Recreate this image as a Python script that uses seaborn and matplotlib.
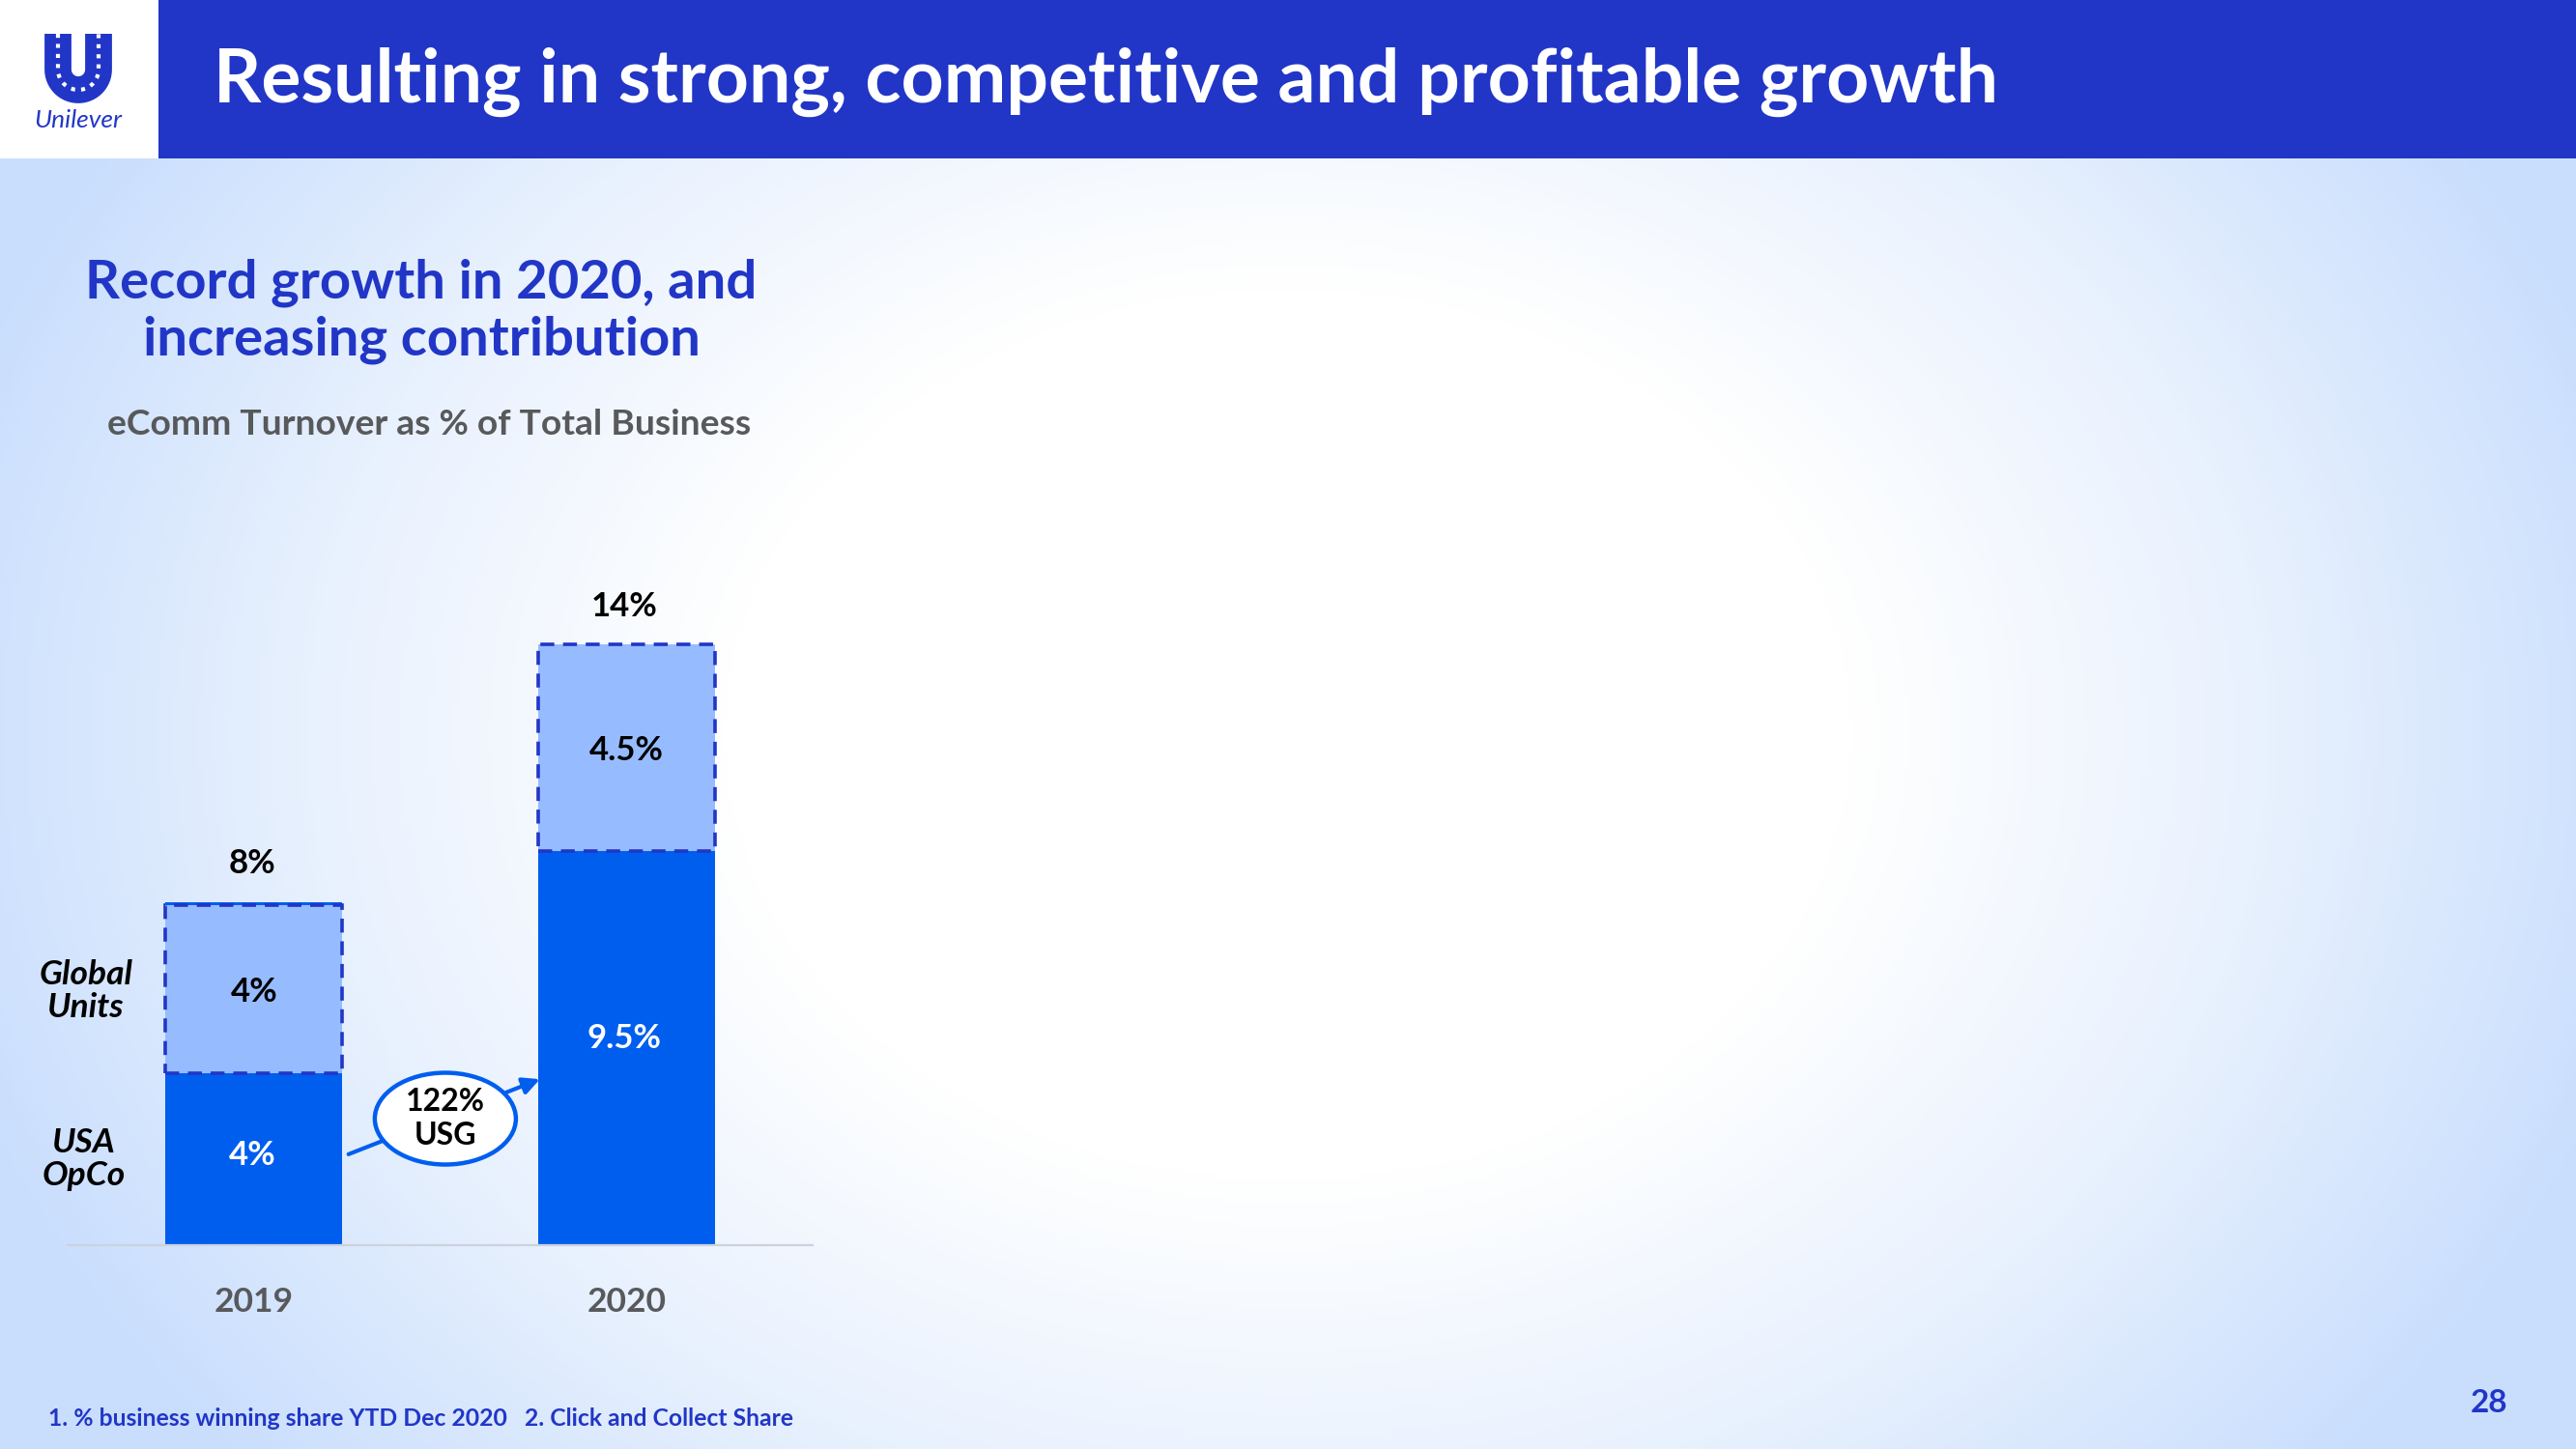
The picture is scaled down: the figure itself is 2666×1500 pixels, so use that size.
# Unilever slide: eComm turnover as % of total business
import numpy as np
import pandas as pd
import matplotlib
matplotlib.use("Agg")
import matplotlib.pyplot as plt
from matplotlib.colors import LinearSegmentedColormap
from matplotlib.patches import Ellipse, Rectangle
import seaborn as sns

# ------------------------------------------------------
# Data (bar heights, labels as printed)
# ------------------------------------------------------
years = ["2019", "2020"]
total_values = [8.0, 14.0]
usa_opco = [4.0, 9.2]
global_units = [3.93, 4.8]
total_labels = ["8%", "14%"]
usa_labels = ["4%", "9.5%"]
global_labels = ["4%", "4.5%"]

BLUE = "#005eef"
LIGHT = "#96bcff"
NAVY = "#2136c7"
GREY = "#58595b"

sns.set_theme(style="white")
plt.rcParams["font.family"] = ["Lato", "DejaVu Sans"]

W, H = 2666, 1500
fig = plt.figure(figsize=(W / 100, H / 100), dpi=100)


def px(x, y):
    # slide pixels to figure fraction
    return x / W, 1 - y / H


# ------------------------------------------------------
# Background gradient and header
# ------------------------------------------------------
bg = fig.add_axes([0, 0, 1, 1], zorder=0)
yy, xx = np.mgrid[0:H:300j, 0:W:534j]
r = np.sqrt(((xx - 1333) / 1450) ** 2 + ((yy - 760) / 1150) ** 2)
cmap = LinearSegmentedColormap.from_list("bg", ["#ffffff", "#ffffff", "#e8f1fe", "#c9defd"])
bg.imshow(np.clip((r - 0.1) / 0.9, 0, 1), cmap=cmap, extent=[0, W, H, 0], aspect="auto", vmin=0, vmax=1)
bg.add_patch(Rectangle((0, 0), W, 164, color=NAVY, lw=0))
bg.add_patch(Rectangle((0, 0), 164, 164, color="white", lw=0))

# logo stand-in: a thick U with a broken white line for the busy pattern
t = np.linspace(np.pi, 2 * np.pi, 30)
u_x = np.r_[60, 81 + 21 * np.cos(t), 102]
u_y = np.r_[35, 72 - 21 * np.sin(t), 35]
bg.plot(u_x, u_y, color=NAVY, lw=20, solid_capstyle="butt")
bg.plot(u_x, u_y, color="white", lw=3, linestyle=(0, (1, 1.5)))
bg.set_xlim(0, W)
bg.set_ylim(H, 0)
bg.axis("off")
fig.text(*px(81, 124), "Unilever", color=NAVY, fontsize=19, style="italic", ha="center", va="center")

# ------------------------------------------------------
# Headings
# ------------------------------------------------------
fig.text(*px(221, 85), "Resulting in strong, competitive and profitable growth", color="white",
         fontsize=55.4, fontweight="bold", ha="left", va="center")
fig.text(*px(436, 293), "Record growth in 2020, and", color=NAVY, fontsize=40.5, fontweight="bold", ha="center", va="center")
fig.text(*px(436, 352), "increasing contribution", color=NAVY, fontsize=40.5, fontweight="bold", ha="center", va="center")
fig.text(*px(444, 439), "eComm Turnover as % of Total Business", color=GREY, fontsize=26.8, fontweight="bold", ha="center", va="center")

# ------------------------------------------------------
# Stacked bars
# ------------------------------------------------------
ax = fig.add_axes([70 / W, 1 - 1289 / H, 771 / W, 689 / H], zorder=1)
ax.patch.set_alpha(0)

df = pd.DataFrame({"year": years, "total": total_values, "usa": usa_opco, "global": global_units})
sns.barplot(data=df, x="year", y="total", color=BLUE, width=0.475, saturation=1, linewidth=0, ax=ax)
sns.barplot(data=df, x="year", y="global", bottom=df["usa"], color=LIGHT, width=0.475, saturation=1,
            edgecolor=NAVY, linewidth=2.6, linestyle=(0, (4, 2.5)), ax=ax)

ax.set_xlim(-0.5, 1.5)
ax.set_ylim(0, 689 / 44.4)
ax.set_xlabel("")
ax.set_ylabel("")
ax.set_yticks([])
ax.tick_params(axis="x", length=0, pad=31, labelsize=25.5, labelcolor=GREY)
for lab in ax.get_xticklabels():
    lab.set_fontweight("bold")
sns.despine(ax=ax, left=True)
ax.spines["bottom"].set_color("#ccd2dc")
ax.spines["bottom"].set_linewidth(1.6)

for i in range(len(years)):
    ax.text(i - 0.005, total_values[i] + 0.89, total_labels[i], color="black", fontsize=25, fontweight="bold",
            ha="center", va="center")
    ax.text(i, usa_opco[i] + global_units[i] / 2 - 0.07, global_labels[i], color="black", fontsize=25, fontweight="bold",
            ha="center", va="center")
    ax.text(i - 0.005, usa_opco[i] / 2 + (0.1 if i == 0 else 0.22), usa_labels[i], color="white", fontsize=25,
            fontweight="bold", ha="center", va="center")

# series names left of the first bar
fig.text(*px(89, 1026), "Global\nUnits", color="black", fontsize=25.5, fontweight="bold", style="italic",
         ha="center", va="center", linespacing=1.08)
fig.text(*px(87, 1200), "USA\nOpCo", color="black", fontsize=25.5, fontweight="bold", style="italic",
         ha="center", va="center", linespacing=1.08)

# growth call-out between the bars
ax.annotate("", xy=(0.768, 3.87), xytext=(0.254, 2.12),
            arrowprops=dict(arrowstyle="-|>", color=BLUE, lw=3, mutation_scale=26, shrinkA=0, shrinkB=0))
ax.add_patch(Ellipse((0.514, 2.95), 146 / 385.5, 95 / 44.4, facecolor="white", edgecolor=BLUE, lw=3.2, zorder=3))
ax.text(0.514, 2.95, "122%\nUSG", color="black", fontsize=23, fontweight="bold", ha="center", va="center",
        linespacing=1.22, zorder=4)

# ------------------------------------------------------
# Footer
# ------------------------------------------------------
fig.text(*px(50, 1468), "1. % business winning share YTD Dec 2020   2. Click and Collect Share", color=NAVY,
         fontsize=17.8, fontweight="bold", ha="left", va="center")
fig.text(*px(2576, 1453), "28", color=NAVY, fontsize=24, fontweight="bold", ha="center", va="center")

fig.savefig("out.png", dpi=100)
